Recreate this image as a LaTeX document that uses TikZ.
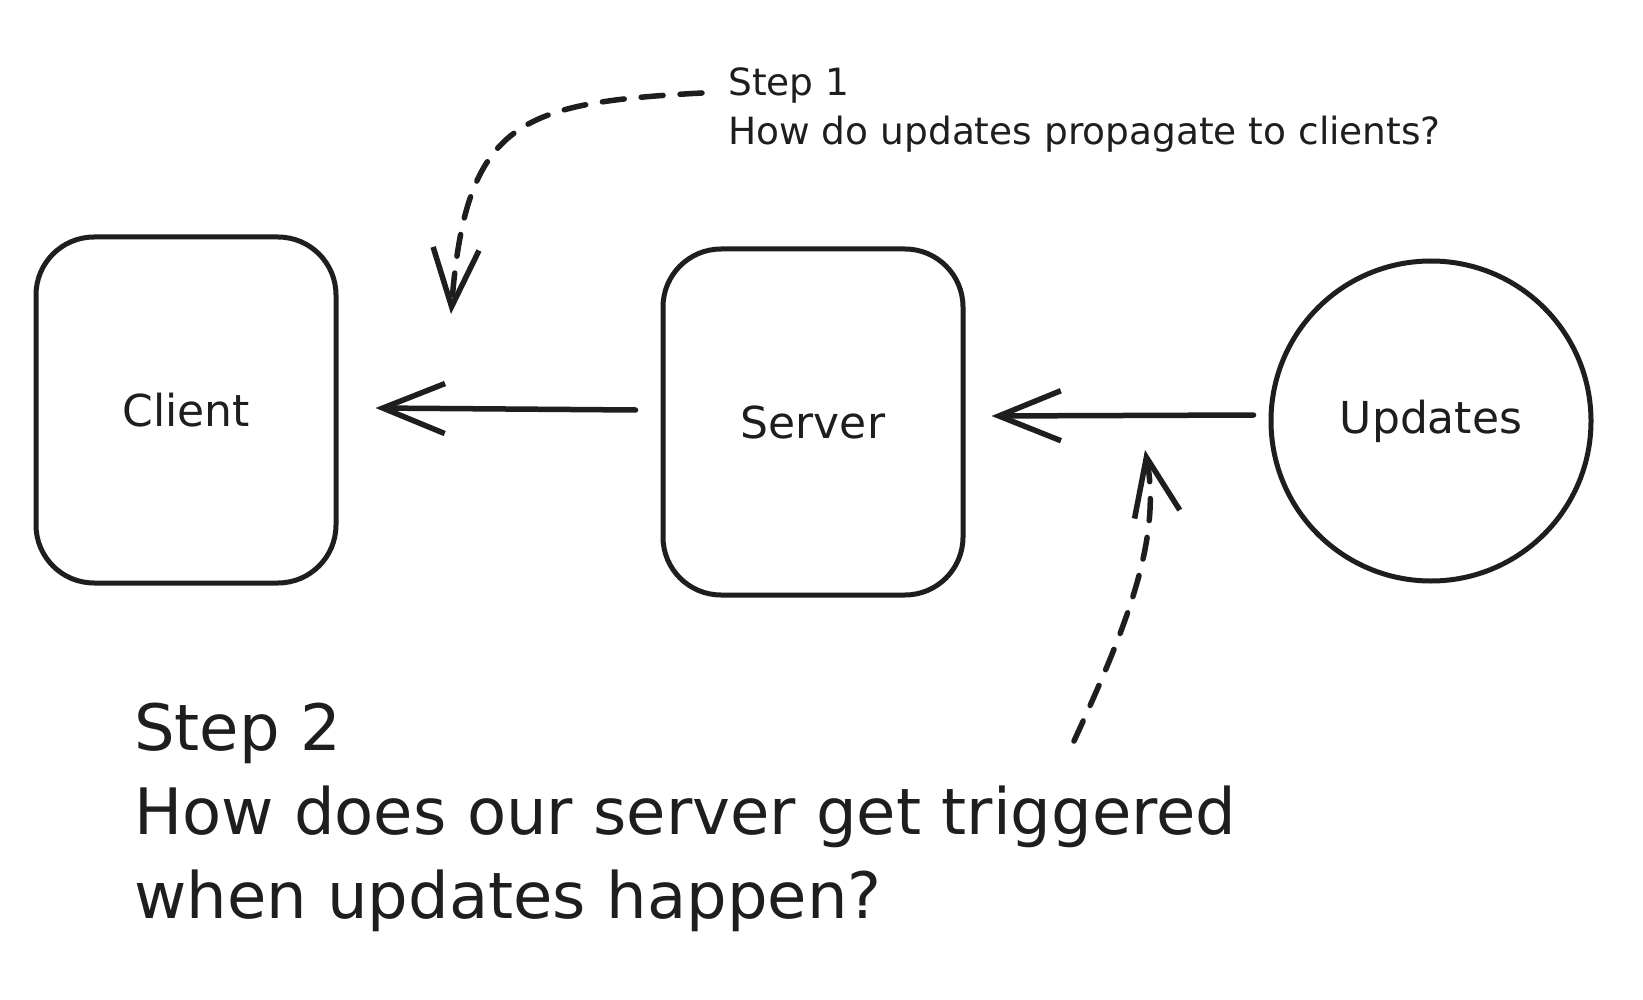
\documentclass[tikz,border=0pt]{standalone}
\usepackage{fontspec}
\setmainfont{DejaVu Sans}
\usetikzlibrary{arrows.meta,calc}
\definecolor{ink}{HTML}{1E1E1E}
\begin{document}
\begin{tikzpicture}[x=1pt,y=-1pt,
  box/.style={draw=ink,line width=5pt,rounded corners=58pt,minimum width=300pt,minimum height=346pt,inner sep=0pt,font=\fontsize{44}{50}\selectfont,text=ink},
  blob/.style={draw=ink,line width=5pt,circle,minimum size=320pt,inner sep=0pt,font=\fontsize{44}{50}\selectfont,text=ink},
  small/.style={anchor=base west,inner sep=0pt,text=ink,font=\fontsize{37.5}{49}\selectfont},
  big/.style={anchor=base west,inner sep=0pt,text=ink,font=\fontsize{64}{84}\selectfont},
  flow/.style={draw=ink,line width=5.5pt,line cap=round,-{Straight Barb[length=62pt,width=50pt]}},
  hint/.style={draw=ink,line width=5.5pt,line cap=round,dash pattern=on 22pt off 17pt,-{Straight Barb[length=58pt,width=46pt]}}
]
\useasboundingbox[fill=white] (0,0) rectangle (1643,1000);

\node[box] (client) at (186,410) {Client};
\node[box] (server) at (813,422) {Server};
\node[blob] (updates) at (1431,421) {Updates};

\node[small] (s1a) at (728,96) {Step 1};
\node[small] (s1b) at (728,145) {How do updates propagate to clients?};

\node[big] (s2a) at (134,750) {Step 2};
\node[big] (s2b) at (134,834) {How does our server get triggered};
\node[big] (s2c) at (134,918) {when updates happen?};

\coordinate (h1) at (451,314);
\coordinate (h2start) at (1074,741);
\coordinate (h2) at (1145,450);

\draw[flow] ($(server.west)+(-25,-12)$) -- ($(client.east)+(37,-2)$);
\draw[flow] ($(updates.west)+(-15,-6)$) -- ($(server.east)+(26,-6)$);

\draw[hint] ($(s1a.west)+(-26,7)$) .. controls (520,103) and (466,120) .. (h1);
\draw[hint] (h2start) .. controls (1125,630) and (1162,540) .. (h2);
\end{tikzpicture}
\end{document}
